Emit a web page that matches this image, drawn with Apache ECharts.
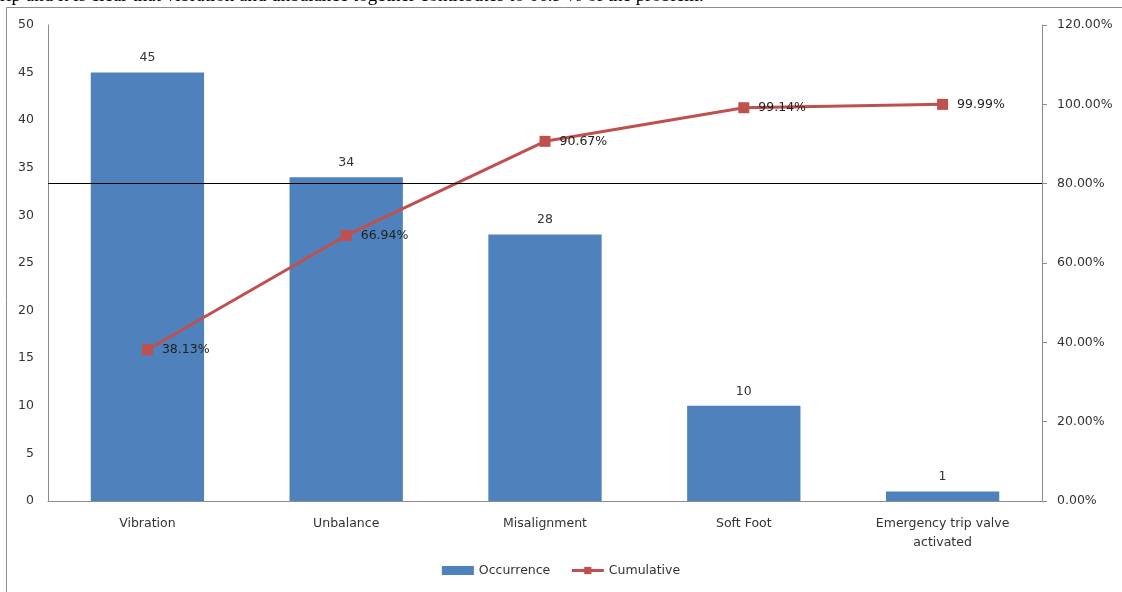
<!DOCTYPE html>
<html>
<head>
<meta charset="utf-8">
<script src="https://cdn.jsdelivr.net/npm/echarts@6/dist/echarts.min.js"></script>
<style>
html,body{margin:0;padding:0;background:#fff;}
#chart{width:1122px;height:592px;}
</style>
</head>
<body>
<div id="chart"></div>
<script>
var categories = ['Vibration', 'Unbalance', 'Misalignment', 'Soft Foot', 'Emergency trip valve\nactivated'];
var occurrence = [45, 34, 28, 10, 1];
var cumulative = [38.13, 66.94, 90.67, 99.14, 99.99];
var leftTicks = [0, 5, 10, 15, 20, 25, 30, 35, 40, 45, 50];
var rightTicks = [0, 20, 40, 60, 80, 100, 120];
var threshold = 80;
var captionText = 'rip and it is clear that vibration and unbalance together contributes to 66.9 % of the problem.';

var chart = echarts.init(document.getElementById('chart'), null, {renderer: 'canvas'});
var font = 'DejaVu Sans';
var fs = 12.5;
var option = {
  animation: false,
  backgroundColor: '#fff',
  graphic: [
    {type: 'rect', shape: {x: 6.5, y: 7.5, width: 1300, height: 700}, style: {fill: 'none', stroke: '#8c8c8c', lineWidth: 1}, z: -1},
    {type: 'text', x: 0, y: -3.5, style: {text: captionText, font: '19px "Liberation Serif"', fill: '#000', textVerticalAlign: 'middle'}}
  ],
  legend: {
    bottom: 10,
    left: 'center',
    itemWidth: 32,
    itemHeight: 9,
    itemGap: 20,
    textStyle: {fontFamily: font, fontSize: fs, color: '#333'},
    data: [
      {name: 'Occurrence', icon: 'rect'},
      {name: 'Cumulative', itemStyle: {color: '#C0504D'}, lineStyle: {width: 3, color: '#C0504D'}}
    ]
  },
  grid: {left: 48, right: 80, top: 25, bottom: 91, containLabel: false},
  xAxis: {
    type: 'category',
    data: categories,
    axisLine: {lineStyle: {color: '#8c8c8c'}},
    axisTick: {show: false},
    axisLabel: {fontFamily: font, fontSize: fs, color: '#333', margin: 13, lineHeight: 19, interval: 0}
  },
  yAxis: [
    {
      type: 'value', min: 0, max: 50, interval: 5,
      axisLine: {show: true, lineStyle: {color: '#8c8c8c'}},
      axisTick: {show: false},
      splitLine: {show: false},
      axisLabel: {fontFamily: font, fontSize: fs, color: '#333', margin: 14}
    },
    {
      type: 'value', min: 0, max: 120, interval: 20,
      axisLine: {show: true, lineStyle: {color: '#8c8c8c'}},
      axisTick: {show: true, length: 5, lineStyle: {color: '#8c8c8c'}},
      splitLine: {show: false},
      axisLabel: {fontFamily: font, fontSize: fs, color: '#333', margin: 15,
        formatter: function (v) { return v.toFixed(2) + '%'; }}
    }
  ],
  series: [
    {
      name: 'Occurrence',
      type: 'bar',
      data: occurrence,
      barWidth: '57%',
      itemStyle: {color: '#4F81BD'},
      label: {show: true, position: 'top', distance: 8, fontFamily: font, fontSize: fs, color: '#333'}
    },
    {
      name: 'Cumulative',
      type: 'line',
      yAxisIndex: 1,
      data: cumulative,
      symbol: 'rect',
      symbolSize: 11,
      lineStyle: {color: '#C0504D', width: 3},
      itemStyle: {color: '#C0504D'},
      label: {show: true, position: 'right', distance: 9, fontFamily: font, fontSize: fs, color: '#222',
        formatter: function (p) { return p.value.toFixed(2) + '%'; }},
      markLine: {
        silent: true,
        symbol: ['none', 'none'],
        label: {show: false},
        lineStyle: {color: '#000', width: 1, type: 'solid'},
        data: [{yAxis: threshold}]
      }
    }
  ]
};
chart.setOption(option);
</script>
</body>
</html>
